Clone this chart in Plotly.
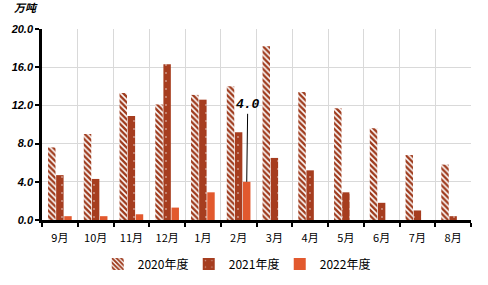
import plotly.graph_objects as go

categories = ["9月", "10月", "11月", "12月", "1月", "2月", "3月", "4月", "5月", "6月", "7月", "8月"]
s2020 = [7.6, 9.0, 13.3, 12.1, 13.1, 14.0, 18.2, 13.4, 11.7, 9.6, 6.8, 5.8]
s2021 = [4.7, 4.3, 10.9, 16.3, 12.6, 9.2, 6.5, 5.2, 2.9, 1.8, 1.0, 0.4]
s2022 = [0.4, 0.4, 0.6, 1.3, 2.9, 4.0, None, None, None, None, None, None]
names = ["2020年度", "2021年度", "2022年度"]
yticks = [0, 4, 8, 12, 16, 20]

c2020 = "#9E3A1C"
c2021 = "#A63D1F"
c2022 = "#E2592E"

fig = go.Figure()
fig.add_trace(go.Bar(
    x=categories, y=s2020, name=names[0],
    marker=dict(color=c2020, line=dict(width=0),
                pattern=dict(shape="\\", fillmode="replace", bgcolor="white",
                             fgcolor=c2020, size=4, solidity=0.6)),
))
fig.add_trace(go.Bar(
    x=categories, y=s2021, name=names[1],
    marker=dict(color=c2021, line=dict(width=0),
                pattern=dict(shape=".", fillmode="overlay", fgcolor="white",
                             size=8, solidity=0.04)),
))
fig.add_trace(go.Bar(
    x=categories, y=s2022, name=names[2],
    marker=dict(color=c2022, line=dict(width=0)),
))

bargap = 0.32
idx = categories.index("2月")
offset = (1 - bargap) / 3
fig.add_annotation(
    x=idx + offset, y=s2022[idx], xref="x", yref="y",
    text="<b><i>4.0</i></b>", showarrow=True, arrowhead=0, arrowwidth=1,
    arrowcolor="black", ax=1, ay=-77,
    font=dict(family="Liberation Mono, Courier New, monospace", size=13, color="black"),
)
fig.add_annotation(
    x=-0.07, y=1, xref="paper", yref="paper", xanchor="left", yanchor="bottom",
    yshift=12,
    text="<b><i>万吨</i></b>", showarrow=False,
    font=dict(family="Noto Sans CJK SC", size=11, color="black"),
)

fig.update_layout(
    width=488, height=285,
    margin=dict(l=42, r=17, t=29, b=65, autoexpand=False),
    paper_bgcolor="white", plot_bgcolor="white",
    barmode="group", bargap=bargap, bargroupgap=0.08,
    showlegend=True,
    legend=dict(orientation="h", x=0.48, xanchor="center", xref="container",
                y=0.125, yanchor="top", yref="container",
                font=dict(family="Noto Sans CJK SC", size=12, color="black"),
                itemwidth=30, entrywidth=46, tracegroupgap=0),
    font=dict(family="Noto Sans CJK SC", color="black"),
)
fig.update_xaxes(
    type="category", showline=True, linecolor="black", linewidth=3,
    ticks="outside", tickson="boundaries", ticklen=4, tickwidth=2, tickcolor="black",
    showgrid=True, gridcolor="#D9D9D9", gridwidth=1, ticklabelstandoff=6,
    tickfont=dict(family="Noto Sans CJK SC", size=11, color="black"),
)
fig.update_yaxes(
    range=[0, 20], tickvals=yticks, tickformat=".1f",
    showline=True, linecolor="black", linewidth=2.5,
    ticks="outside", ticklen=4, tickwidth=2, tickcolor="black",
    showgrid=True, gridcolor="#D9D9D9", gridwidth=1, zeroline=False,
    tickfont=dict(family="Liberation Sans", size=11, color="black", weight="bold", style="italic"),
)

fig.write_html("out.html")
